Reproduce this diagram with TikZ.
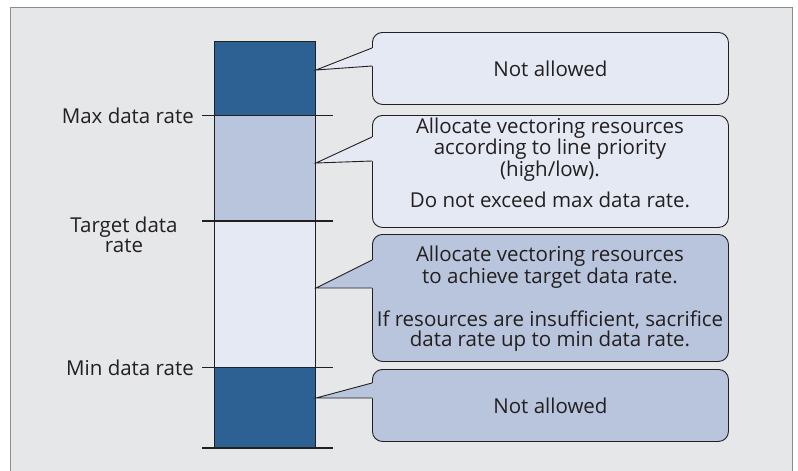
\documentclass[tikz,border=0pt]{standalone}
\usepackage{fontspec}
\setmainfont{Open Sans}
\definecolor{panelbg}{HTML}{E6E7E8}
\definecolor{panelline}{HTML}{8C8C8C}
\definecolor{darkblue}{HTML}{2E6193}
\definecolor{midblue}{HTML}{B8C5DD}
\definecolor{paleblue}{HTML}{E4E9F3}
\definecolor{ink}{HTML}{231F20}
\begin{document}
\begin{tikzpicture}[x=1pt,y=-1pt,
  seg/.style={draw=ink, line width=0.9pt, minimum width=101pt, inner sep=0pt, anchor=north west},
  callbox/.style={draw=ink, line width=0.9pt, rounded corners=10pt, minimum width=356pt, inner sep=0pt, anchor=north west, align=center, text=ink, font=\fontsize{20.5}{20}\selectfont},
  lbl/.style={text=ink, font=\fontsize{20.5}{20}\selectfont, inner sep=0pt},
  tick/.style={draw=ink, line width=0.9pt},
  ptr/.style={draw=ink, line width=0.9pt}
]
\useasboundingbox (0,0) rectangle (798,471);
\clip (0,0) rectangle (798,471);
\fill[white] (0,0) rectangle (798,471);
\draw[panelline, fill=panelbg, line width=1pt] (10,7) rectangle (792,490);

% bar segments
\node[seg, fill=darkblue, minimum height=74pt] (s1) at (214,41) {};
\node[seg, fill=midblue, minimum height=106pt] (s2) at (214,115) {};
\node[seg, fill=paleblue, minimum height=146pt] (s3) at (214,221) {};
\node[seg, fill=darkblue, minimum height=80pt] (s4) at (214,367) {};

% ticks
\draw[tick] ([xshift=-12pt]s2.north west) -- ([xshift=17pt]s2.north east);
\draw[tick, line width=1.5pt] ([xshift=-12pt]s3.north west) -- ([xshift=17pt]s3.north east);
\draw[tick] ([xshift=-12pt]s4.north west) -- ([xshift=17pt]s4.north east);
\draw[tick, line width=1.5pt] ([xshift=-12pt]s4.south west) -- ([xshift=17pt]s4.south east);

% labels
\node[lbl, anchor=east] (lmax) at (194,116) {Max data rate};
\node[lbl, align=center] (ltarget) at (124,235) {Target data\\rate};
\node[lbl, anchor=east] (lmin) at (194,368) {Min data rate};

% callout boxes
\node[callbox, fill=paleblue, minimum height=72pt] (b1) at (372,32) {Not allowed};
\node[callbox, fill=paleblue, minimum height=112pt] (b2) at (372,115) {};
\node[callbox, fill=midblue, minimum height=127pt] (b3) at (372,234) {};
\node[callbox, fill=midblue, minimum height=72pt] (b4) at (372,369) {Not allowed};

\node[lbl, align=center] (t2) at (550,163) {Allocate vectoring resources\\according to line priority\\(high/low).\\[10pt]Do not exceed max data rate.};
\node[lbl, align=center] (t3) at (550,299) {Allocate vectoring resources\\to achieve target data rate.\\[22pt]If resources are insufficient, sacrifice\\data rate up to min data rate.};

% pointers
\coordinate (p1) at (316,70);
\coordinate (p2) at (316,163);
\coordinate (p3) at (316,288);
\coordinate (p4) at (316,398);

\fill[paleblue] (p1) -- (372,48) -- (373.5,48) -- (373.5,66) -- (372,66) -- cycle;
\draw[ptr] (372,48) -- (p1) -- (372,66);
\fill[paleblue] (p2) -- (372,137) -- (373.5,137) -- (373.5,161) -- (372,161) -- cycle;
\draw[ptr] (372,137) -- (p2) -- (372,161);
\fill[midblue] (p3) -- (372,260) -- (373.5,260) -- (373.5,288) -- (372,288) -- cycle;
\draw[ptr] (372,260) -- (p3) -- (372,288);
\fill[midblue] (p4) -- (372,383) -- (373.5,383) -- (373.5,398) -- (372,398) -- cycle;
\draw[ptr] (372,383) -- (p4) -- (372,398);
\end{tikzpicture}
\end{document}
